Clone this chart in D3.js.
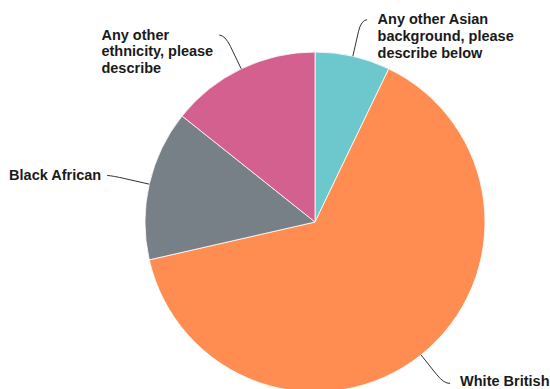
<!DOCTYPE html>
<html><head><meta charset="utf-8">
<script src="https://cdn.jsdelivr.net/npm/d3@7"></script>
<style>html,body{margin:0;padding:0;background:#fff;overflow:hidden}</style>
</head><body>
<svg id="chart" width="550" height="389"></svg>
<script>
const categories = [
  "Any other Asian background, please describe below",
  "White British",
  "Black African",
  "Any other ethnicity, please describe"
];
const values = [1, 9, 2, 2];
const labelLines = [
  ["Any other Asian", "background, please", "describe below"],
  ["White British"],
  ["Black African"],
  ["Any other", "ethnicity, please", "describe"]
];
const colors = ["#6cc8cc", "#ff8c50", "#778087", "#d4608f"];

const W = 550, H = 389;
const cx = 315, cy = 222, R = 170;
const svg = d3.select("#chart");
const g = svg.append("g").attr("transform", `translate(${cx},${cy})`);

const pie = d3.pie().sort(null).value(d => d);
const arcs = pie(values);
const arc = d3.arc().innerRadius(0).outerRadius(R);

g.selectAll("path.slice").data(arcs).enter().append("path")
  .attr("class", "slice")
  .attr("d", arc)
  .attr("fill", (d, i) => colors[i])
  .attr("stroke", "#ffffff")
  .attr("stroke-width", 0.8)
  .attr("stroke-linejoin", "round");

function polar(a, r) { return [Math.sin(a) * r, -Math.cos(a) * r]; }

const lineH = 16.7;
const fontSize = 14.5;
arcs.forEach((d, i) => {
  const a = (d.startAngle + d.endAngle) / 2;
  const side = Math.sin(a) >= 0 ? 1 : -1;
  const E = polar(a, R);
  const B = polar(a, R + 25);
  const C = polar(a, R + 37);
  const P = [C[0] + side * 6, C[1] - 0.5];
  g.append("path")
    .attr("d", `M${E[0]},${E[1]}L${B[0]},${B[1]}Q${C[0]},${C[1]} ${P[0]},${P[1]}`)
    .attr("fill", "none").attr("stroke", "#333").attr("stroke-width", 1);
  const t = g.append("text")
    .attr("font-family", "'Liberation Sans', Arial, Helvetica, sans-serif")
    .attr("font-weight", "bold")
    .attr("font-size", fontSize + "px")
    .attr("fill", "#1a1a1a");
  const n = labelLines[i].length;
  let y0 = P[1] + 4.7;
  const maxBase = (H - cy) - fontSize * 0.22 - 0.3 - (n - 1) * lineH;
  if (y0 > maxBase) y0 = maxBase;
  labelLines[i].forEach((ln, k) => {
    t.append("tspan").attr("y", y0 + k * lineH).text(ln);
  });
  let maxW = 0;
  t.selectAll("tspan").each(function(){ maxW = Math.max(maxW, this.getComputedTextLength()); });
  let x0 = side > 0 ? P[0] + 10.5 : P[0] - 6 - maxW;
  if (cx + x0 + maxW > W - 0.5) x0 = W - 0.5 - cx - maxW;
  t.selectAll("tspan").attr("x", x0);
});
</script>
</body></html>
